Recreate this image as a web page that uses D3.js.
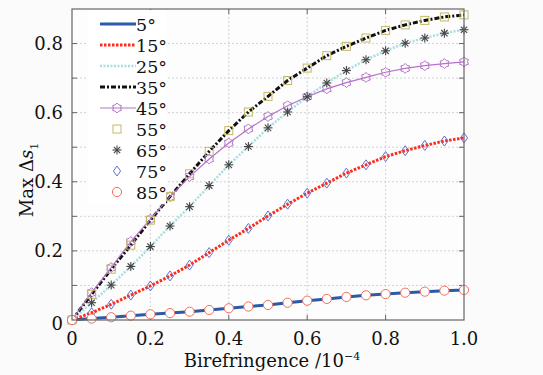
<!DOCTYPE html>
<html>
<head>
<meta charset="utf-8">
<script src="https://cdn.jsdelivr.net/npm/d3@7"></script>
<style>
  body { margin: 0; background: #fbfbfb; }
  text { font-family: "DejaVu Serif", "Liberation Serif", "Times New Roman", serif; }
</style>
</head>
<body>
<div id="chart"></div>
<script>
// birefringence values (x 10^-4)
const biref = d3.range(21).map((i) => +(i * 0.05).toFixed(2));

// Max delta s1 per angle (symmetric pairs share the same curve)
const s5 = [0, 0.004, 0.008, 0.0125, 0.0165, 0.02, 0.024, 0.029, 0.034, 0.039, 0.0435,
  0.05, 0.056, 0.061, 0.0667, 0.0715, 0.075, 0.079, 0.082, 0.085, 0.087];
const s15 = [0, 0.021, 0.0454, 0.072, 0.0985, 0.1275, 0.159, 0.195, 0.231, 0.265, 0.301,
  0.335, 0.367, 0.396, 0.425, 0.449, 0.473, 0.49, 0.505, 0.518, 0.527];
const s25 = [0, 0.05, 0.101, 0.155, 0.2125, 0.272, 0.328, 0.389, 0.449, 0.502, 0.556,
  0.602, 0.646, 0.686, 0.722, 0.753, 0.779, 0.801, 0.816, 0.83, 0.84];
const s35 = [0, 0.0744, 0.147, 0.2165, 0.289, 0.357, 0.423, 0.488, 0.548, 0.602, 0.647,
  0.693, 0.729, 0.765, 0.792, 0.816, 0.838, 0.854, 0.867, 0.877, 0.883];
const s45 = [0, 0.079, 0.1517, 0.227, 0.292, 0.357, 0.415, 0.466, 0.512, 0.553, 0.589,
  0.62, 0.646, 0.669, 0.687, 0.702, 0.717, 0.728, 0.736, 0.742, 0.747];
const s55 = s35.slice();
const s65 = s25.slice();
const s75 = s15.slice();
const s85 = s5.slice();

const xTicks = [0, 0.2, 0.4, 0.6, 0.8, 1.0];
const yTicks = [0, 0.2, 0.4, 0.6, 0.8];
const angleLabels = ["5°", "15°", "25°", "35°", "45°", "55°", "65°", "75°", "85°"];

const series = [
  { name: angleLabels[0], values: s5, line: { color: "#2c5aa8", width: 3, dash: null }, marker: null },
  { name: angleLabels[1], values: s15, line: { color: "#ff2a1a", width: 3, dash: "2.5,1.5" }, marker: null },
  { name: angleLabels[2], values: s25, line: { color: "#a9dde2", width: 2.5, dash: "2,1.5" }, marker: null },
  { name: angleLabels[3], values: s35, line: { color: "#111", width: 3, dash: "5,2,2,2" }, marker: null },
  { name: angleLabels[4], values: s45, line: { color: "#b472c8", width: 1.2, dash: null }, marker: "hex" },
  { name: angleLabels[5], values: s55, line: null, marker: "square" },
  { name: angleLabels[6], values: s65, line: null, marker: "star" },
  { name: angleLabels[7], values: s75, line: null, marker: "diamond" },
  { name: angleLabels[8], values: s85, line: null, marker: "circle" }
];

const W = 543, H = 375;
const margin = { top: 9, right: 79, bottom: 55, left: 72 };
const width = W - margin.left - margin.right,
  height = H - margin.top - margin.bottom;

const svg = d3.select("#chart").append("svg")
  .attr("width", W).attr("height", H);

const g = svg.append("g")
  .attr("transform", `translate(${margin.left},${margin.top})`);

const x = d3.scaleLinear().domain([0, 1]).range([0, width]);
const y = d3.scaleLinear().domain([0, 0.9]).range([height, 0]);

g.append("rect").attr("width", width).attr("height", height).attr("fill", "#fdfdfd");

// grid
const gridY = d3.range(1, 9).map((v) => v / 10);
g.append("g").selectAll("line").data(gridY).join("line")
  .attr("x1", 0).attr("x2", width)
  .attr("y1", (d) => y(d)).attr("y2", (d) => y(d))
  .attr("stroke", "#c8c8c8").attr("stroke-width", 0.8).attr("stroke-dasharray", "2,2");
g.append("g").selectAll("line").data(xTicks.slice(1, -1)).join("line")
  .attr("y1", 0).attr("y2", height)
  .attr("x1", (d) => x(d)).attr("x2", (d) => x(d))
  .attr("stroke", "#c8c8c8").attr("stroke-width", 0.8).attr("stroke-dasharray", "2,2");

// frame ticks (inside, all four sides)
const tickLen = 5;
const tickG = g.append("g").attr("stroke", "#666").attr("stroke-width", 1);
gridY.forEach((v) => {
  tickG.append("line").attr("x1", 0).attr("x2", tickLen).attr("y1", y(v)).attr("y2", y(v));
  tickG.append("line").attr("x1", width).attr("x2", width - tickLen).attr("y1", y(v)).attr("y2", y(v));
});
xTicks.slice(1, -1).forEach((v) => {
  tickG.append("line").attr("y1", height).attr("y2", height - tickLen).attr("x1", x(v)).attr("x2", x(v));
  tickG.append("line").attr("y1", 0).attr("y2", tickLen).attr("x1", x(v)).attr("x2", x(v));
});

// lines
const line = d3.line().x((d, i) => x(biref[i])).y((d) => y(d));
series.filter((s) => s.line).forEach((s) => {
  g.append("path").datum(s.values)
    .attr("fill", "none")
    .attr("stroke", s.line.color)
    .attr("stroke-width", s.line.width)
    .attr("stroke-dasharray", s.line.dash)
    .attr("d", line);
});

// markers
function hexPath(r) {
  const pts = d3.range(12).map((i) => {
    const a = (i * Math.PI) / 6;
    const rr = i % 2 === 0 ? r : r * 0.72;
    return [Math.sin(a) * rr, -Math.cos(a) * rr];
  });
  return "M" + pts.map((p) => p.join(",")).join("L") + "Z";
}
function drawMarker(sel, type) {
  if (type === "hex") {
    sel.append("path").attr("d", hexPath(5)).attr("fill", "none")
      .attr("stroke", "#b472c8").attr("stroke-width", 1);
  } else if (type === "square") {
    sel.append("rect").attr("x", -4).attr("y", -4).attr("width", 8).attr("height", 8)
      .attr("fill", "none").attr("stroke", "#c4b866").attr("stroke-width", 1);
  } else if (type === "star") {
    const r = 4.5;
    [0, 45, 90, 135].forEach((a) => {
      const rad = (a * Math.PI) / 180;
      sel.append("line")
        .attr("x1", -Math.cos(rad) * r).attr("y1", -Math.sin(rad) * r)
        .attr("x2", Math.cos(rad) * r).attr("y2", Math.sin(rad) * r)
        .attr("stroke", "#444").attr("stroke-width", 1.1);
    });
  } else if (type === "diamond") {
    sel.append("path").attr("d", "M0,-5L3.6,0L0,5L-3.6,0Z").attr("fill", "none")
      .attr("stroke", "#6470cc").attr("stroke-width", 1);
  } else if (type === "circle") {
    sel.append("circle").attr("r", 4.6).attr("fill", "#fff")
      .attr("stroke", "#f0705a").attr("stroke-width", 1);
  }
}
series.filter((s) => s.marker).forEach((s) => {
  g.append("g").selectAll("g").data(s.values).join("g")
    .attr("transform", (d, i) => `translate(${x(biref[i])},${y(d)})`)
    .each(function () { drawMarker(d3.select(this), s.marker); });
});

// frame
g.append("rect").attr("width", width).attr("height", height)
  .attr("fill", "none").attr("stroke", "#666").attr("stroke-width", 1.2);

// tick labels
g.append("g").selectAll("text").data(xTicks).join("text")
  .attr("x", (d) => x(d)).attr("y", height + 25)
  .attr("text-anchor", "middle").attr("font-size", 18).attr("fill", "#111")
  .text((d) => (d === 0 ? "0" : d.toFixed(1)));
g.append("g").selectAll("text").data(yTicks).join("text")
  .attr("x", -9).attr("y", (d) => y(d) + 6 + (d === 0 ? 4 : 0))
  .attr("text-anchor", "end").attr("font-size", 18).attr("fill", "#111")
  .text((d) => (d === 0 ? "0" : d.toFixed(1)));

// axis titles
const xl = svg.append("text")
  .attr("x", 272).attr("y", 367).attr("text-anchor", "middle")
  .attr("font-size", 18).attr("fill", "#111");
xl.append("tspan").text("Birefringence /10");
xl.append("tspan").attr("dy", -7).attr("font-size", 11).text("−4");

const yl = svg.append("text")
  .attr("transform", "translate(33,180) rotate(-90)")
  .attr("text-anchor", "middle").attr("font-size", 18).attr("fill", "#111");
yl.append("tspan").text("Max Δ");
yl.append("tspan").attr("font-style", "italic").text("s");
yl.append("tspan").attr("dy", 5).attr("font-size", 11).text("1");

// legend
const lg = g.append("g");
lg.append("rect").attr("x", 16).attr("y", 1).attr("width", 78).attr("height", 194).attr("fill", "#fff");
series.forEach((s, i) => {
  const row = lg.append("g").attr("transform", `translate(0,${15 + i * 21})`);
  if (s.line) {
    row.append("line").attr("x1", 28).attr("x2", 64).attr("y1", 0).attr("y2", 0)
      .attr("stroke", s.line.color).attr("stroke-width", s.line.width)
      .attr("stroke-dasharray", s.line.dash);
  }
  if (s.marker) {
    const m = row.append("g").attr("transform", "translate(45,0)");
    drawMarker(m, s.marker);
  }
  row.append("text").attr("x", 64).attr("y", 7).attr("font-size", 17.5).attr("fill", "#111").text(s.name);
});
</script>
</body>
</html>
